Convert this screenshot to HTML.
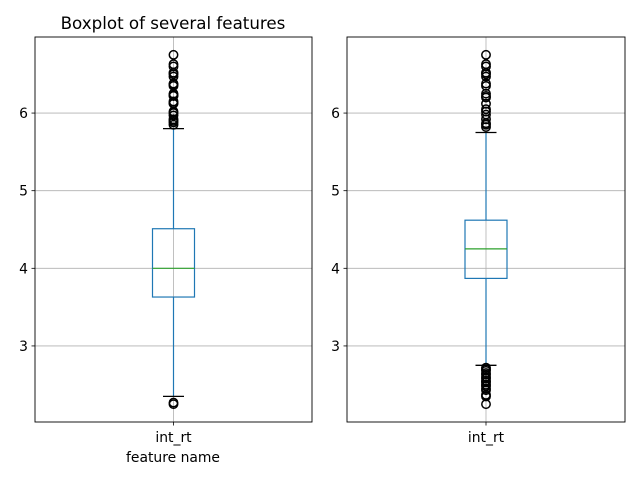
<!DOCTYPE html>
<html><head><meta charset="utf-8"><style>
body{margin:0;background:#fff;}
svg{font-family:"DejaVu Sans","Liberation Sans",sans-serif;}
</style></head><body>
<svg id="chart" width="640" height="480" xmlns="http://www.w3.org/2000/svg"></svg>
<script>
const panels = ["left","right"];
const categoryLabels = ["int_rt","int_rt"];
const q1Values = [3.63, 3.87];
const medianValues = [4.0, 4.25];
const q3Values = [4.51, 4.62];
const whiskerLow = [2.35, 2.75];
const whiskerHigh = [5.8, 5.75];
const outliersLeft = [6.75,6.63,6.6,6.52,6.5,6.47,6.38,6.37,6.35,6.25,6.23,6.22,6.15,6.13,6.12,6.02,6.0,5.97,5.92,5.9,5.88,5.85,2.25,2.27];
const outliersRight = [6.75,6.63,6.6,6.52,6.5,6.47,6.38,6.35,6.25,6.22,6.2,6.12,6.05,6.02,5.98,5.92,5.87,5.85,5.82,2.72,2.7,2.68,2.65,2.63,2.6,2.58,2.55,2.53,2.5,2.48,2.45,2.43,2.37,2.35,2.25];
const yTicks = [3,4,5,6];
const yMin = 2.02, yMax = 6.98;

const NS="http://www.w3.org/2000/svg";
const svg=document.getElementById('chart');
function mk(tag,attrs,parent){const e=document.createElementNS(NS,tag);for(const k in attrs)e.setAttribute(k,attrs[k]);(parent||svg).appendChild(e);return e;}
const boxes=[{x0:35,x1:312},{x0:347,x1:625}];
const plotTop=37,plotBot=422;
function yScale(v){return plotBot-(v-yMin)/(yMax-yMin)*(plotBot-plotTop);}
const outs=[outliersLeft,outliersRight];
panels.forEach((p,i)=>{
  const b=boxes[i];
  const g=mk('g',{});
  
  
  const cx=(b.x0+b.x1)/2;
  yTicks.forEach(t=>{
    const y=yScale(t);
    const l=mk('line',{x1:b.x0,x2:b.x1,y1:y,y2:y,stroke:'#b0b0b0','stroke-width':0.8},g);
    
    
    const tk=mk('line',{x1:b.x0-3.5,x2:b.x0,y1:y,y2:y,stroke:'#000','stroke-width':0.8},g);
    
    
    const tx=mk('text',{x:b.x0-7,y:y+5,'text-anchor':'end','font-size':13.9,fill:'#000'},g);
    tx.textContent=t;
    
    
  });
  const vg=mk('line',{x1:cx,x2:cx,y1:plotTop,y2:plotBot,stroke:'#b0b0b0','stroke-width':0.8},g);
  
  
  const hw=21;
  const c='#1f77b4';
  const w1=mk('line',{x1:cx,x2:cx,y1:yScale(q3Values[i]),y2:yScale(whiskerHigh[i]),stroke:c,'stroke-width':1.2},g);
  
  
  const w2=mk('line',{x1:cx,x2:cx,y1:yScale(q1Values[i]),y2:yScale(whiskerLow[i]),stroke:c,'stroke-width':1.2},g);
  
  
  [whiskerHigh[i],whiskerLow[i]].forEach(v=>{
    const cap=mk('line',{x1:cx-10.5,x2:cx+10.5,y1:yScale(v),y2:yScale(v),stroke:'#000','stroke-width':1.3},g);
    
    
  });
  const bx=mk('rect',{x:cx-hw,width:hw*2,y:yScale(q3Values[i]),height:yScale(q1Values[i])-yScale(q3Values[i]),fill:'none',stroke:c,'stroke-width':1.2},g);
  
  
  const md=mk('line',{x1:cx-hw,x2:cx+hw,y1:yScale(medianValues[i]),y2:yScale(medianValues[i]),stroke:'#2ca02c','stroke-width':1.2},g);
  
  
  outs[i].forEach(v=>{
    const o=mk('circle',{cx:cx,cy:yScale(v),r:4.2,fill:'none',stroke:'#000','stroke-width':1.5},g);
    
    
  });
  const fr=mk('rect',{x:b.x0,y:plotTop,width:b.x1-b.x0,height:plotBot-plotTop,fill:'none',stroke:'#000','stroke-width':0.9},g);
  
  
  const xt=mk('line',{x1:cx,x2:cx,y1:plotBot,y2:plotBot+3.5,stroke:'#000','stroke-width':0.8},g);
  
  
  const xl=mk('text',{x:cx,y:plotBot+20,'text-anchor':'middle','font-size':13.9,fill:'#000'},g);
  xl.textContent=categoryLabels[i];
  
  
});
const title=mk('text',{x:173,y:29,'text-anchor':'middle','font-size':16.7,fill:'#000'});
title.textContent='Boxplot of several features';


const xa=mk('text',{x:173,y:462,'text-anchor':'middle','font-size':13.9,fill:'#000'});
xa.textContent='feature name';


</script>
</body></html>
